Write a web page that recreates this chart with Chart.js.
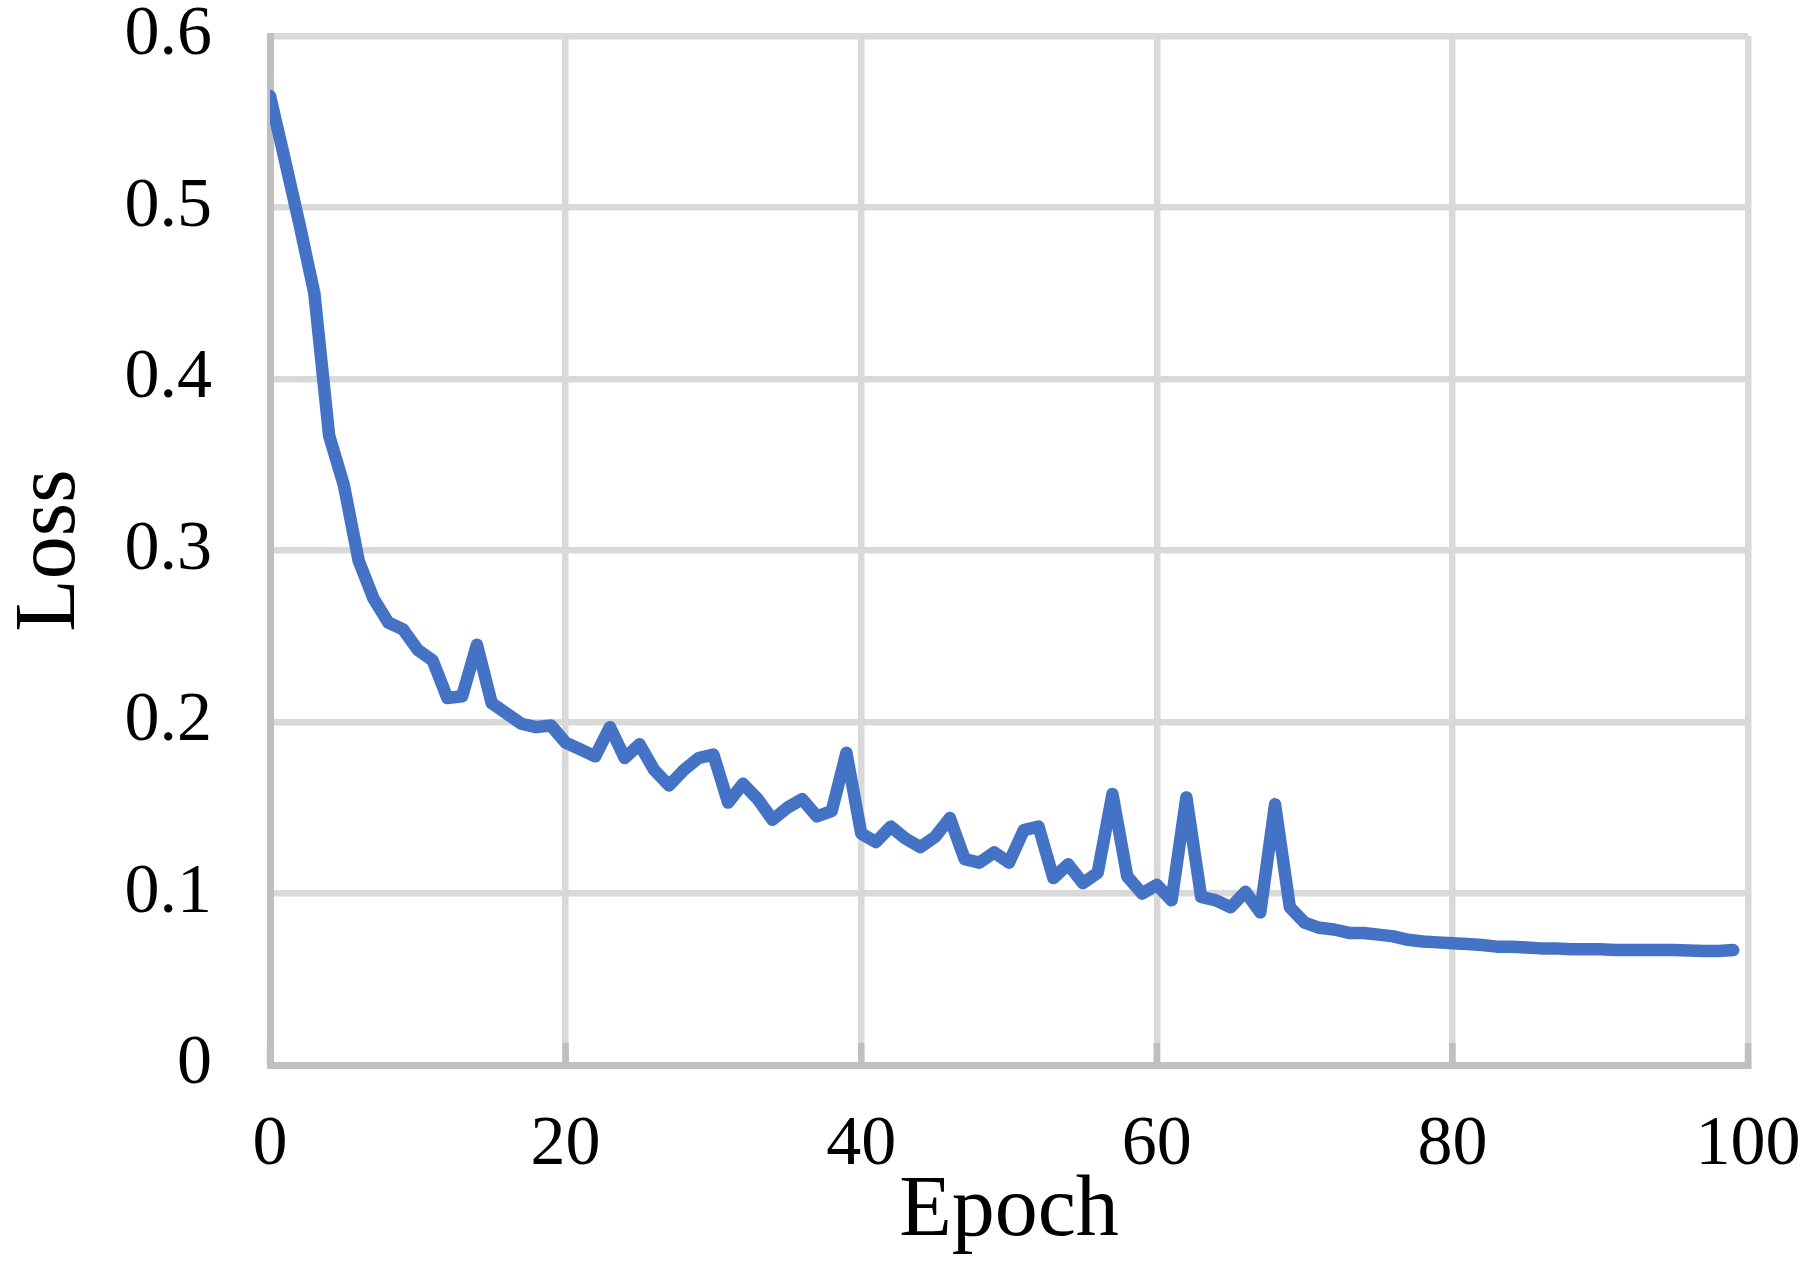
<!DOCTYPE html>
<html>
<head>
<meta charset="utf-8">
<title>Loss</title>
<script src="https://cdn.jsdelivr.net/npm/chart.js@4.4.1/dist/chart.umd.min.js"></script>
<style>
  html, body { margin: 0; padding: 0; background: #fff; }
  #wrap { width: 1811px; height: 1273px; }
</style>
</head>
<body>
<div id="wrap"><canvas id="chart-loss" width="1811" height="1273"></canvas></div>
<script>
'use strict';

// ── Data ──────────────────────────────────────────────────────
const epochs = [
  0, 1, 2, 3, 4, 5, 6, 7, 8, 9,
  10, 11, 12, 13, 14, 15, 16, 17, 18, 19,
  20, 21, 22, 23, 24, 25, 26, 27, 28, 29,
  30, 31, 32, 33, 34, 35, 36, 37, 38, 39,
  40, 41, 42, 43, 44, 45, 46, 47, 48, 49,
  50, 51, 52, 53, 54, 55, 56, 57, 58, 59,
  60, 61, 62, 63, 64, 65, 66, 67, 68, 69,
  70, 71, 72, 73, 74, 75, 76, 77, 78, 79,
  80, 81, 82, 83, 84, 85, 86, 87, 88, 89,
  90, 91, 92, 93, 94, 95, 96, 97, 98, 99
];

const lossValues = [
  0.565, 0.528, 0.490, 0.450, 0.367, 0.338, 0.294, 0.272, 0.258, 0.254,
  0.242, 0.236, 0.214, 0.215, 0.245, 0.211, 0.205, 0.199, 0.197, 0.198,
  0.188, 0.184, 0.180, 0.197, 0.179, 0.187, 0.172, 0.163, 0.172, 0.179,
  0.181, 0.153, 0.164, 0.155, 0.143, 0.150, 0.155, 0.145, 0.148, 0.182,
  0.135, 0.130, 0.139, 0.132, 0.127, 0.133, 0.144, 0.120, 0.118, 0.124,
  0.118, 0.137, 0.139, 0.109, 0.117, 0.106, 0.112, 0.158, 0.110, 0.100,
  0.105, 0.096, 0.156, 0.098, 0.096, 0.092, 0.101, 0.089, 0.152, 0.092,
  0.083, 0.080, 0.079, 0.077, 0.077, 0.076, 0.075, 0.073, 0.072, 0.0715,
  0.071, 0.0705, 0.070, 0.069, 0.069, 0.0685, 0.068, 0.068, 0.0675, 0.0675,
  0.0675, 0.067, 0.067, 0.067, 0.067, 0.067, 0.0668, 0.0665, 0.0665, 0.067
];

const xTicks = [0, 20, 40, 60, 80, 100];
const yTicks = [0, 0.1, 0.2, 0.3, 0.4, 0.5, 0.6];

const xTitle = 'Epoch';
const yTitle = 'Loss';

// ── Styles ─────────────────────────────────────────────────
const lineColor = '#4472C4';
const gridColor = '#d9d9d9';
const axisColor = '#bfbfbf';
const fontFamily = "'Liberation Serif', 'Times New Roman', serif";

// small inside tick marks on the x axis (Excel style)
const innerTicks = {
  id: 'innerTicks',
  beforeDatasetsDraw(chart) {
    const { ctx, chartArea, scales: { x } } = chart;
    ctx.save();
    ctx.strokeStyle = axisColor;
    ctx.lineWidth = 6.5;
    xTicks.forEach(v => {
      const px = x.getPixelForValue(v);
      ctx.beginPath();
      ctx.moveTo(px, chartArea.bottom - 22);
      ctx.lineTo(px, chartArea.bottom);
      ctx.stroke();
    });
    ctx.restore();
  }
};

new Chart(document.getElementById('chart-loss').getContext('2d'), {
  type: 'line',
  data: {
    datasets: [{
      label: yTitle,
      data: epochs.map((e, i) => ({ x: e, y: lossValues[i] })),
      borderColor: lineColor,
      backgroundColor: lineColor,
      borderWidth: 12.5,
      borderCapStyle: 'round',
      borderJoinStyle: 'round',
      pointRadius: 0,
      tension: 0,
      fill: false
    }]
  },
  options: {
    responsive: false,
    animation: false,
    devicePixelRatio: 1,
    layout: { padding: { top: 36, right: 63, bottom: 0, left: 0 } },
    plugins: {
      legend: { display: false },
      tooltip: { enabled: false }
    },
    scales: {
      x: {
        type: 'linear',
        min: 0, max: 100,
        afterBuildTicks: s => { s.ticks = xTicks.map(v => ({ value: v })); },
        afterFit: s => { s.height = 208; s.paddingLeft = 0; s.paddingRight = 0; },
        grid: { color: gridColor, lineWidth: 6.5, drawTicks: false },
        border: { color: axisColor, width: 7 },
        ticks: {
          color: '#000', padding: 46, maxRotation: 0,
          font: { family: fontFamily, size: 70, lineHeight: 1 }
        },
        title: {
          display: true, text: xTitle, color: '#000',
          padding: { top: 0, bottom: 9 },
          font: { family: fontFamily, size: 86, lineHeight: 1.2 }
        }
      },
      y: {
        type: 'linear',
        min: 0, max: 0.6,
        afterBuildTicks: s => { s.ticks = yTicks.map(v => ({ value: v })); },
        afterFit: s => { s.width = 270; s.paddingTop = 0; s.paddingBottom = 0; },
        grid: { color: gridColor, lineWidth: 6.5, drawTicks: false },
        border: { color: axisColor, width: 7 },
        ticks: {
          color: '#000', padding: 58,
          callback: v => String(+v.toFixed(1)),
          font: { family: fontFamily, size: 70, lineHeight: 1 }
        },
        title: {
          display: true, text: yTitle, color: '#000',
          padding: { top: 0, bottom: 0 },
          font: { family: fontFamily, size: 86, lineHeight: 1.2 }
        }
      }
    }
  },
  plugins: [innerTicks]
});
</script>
</body>
</html>
